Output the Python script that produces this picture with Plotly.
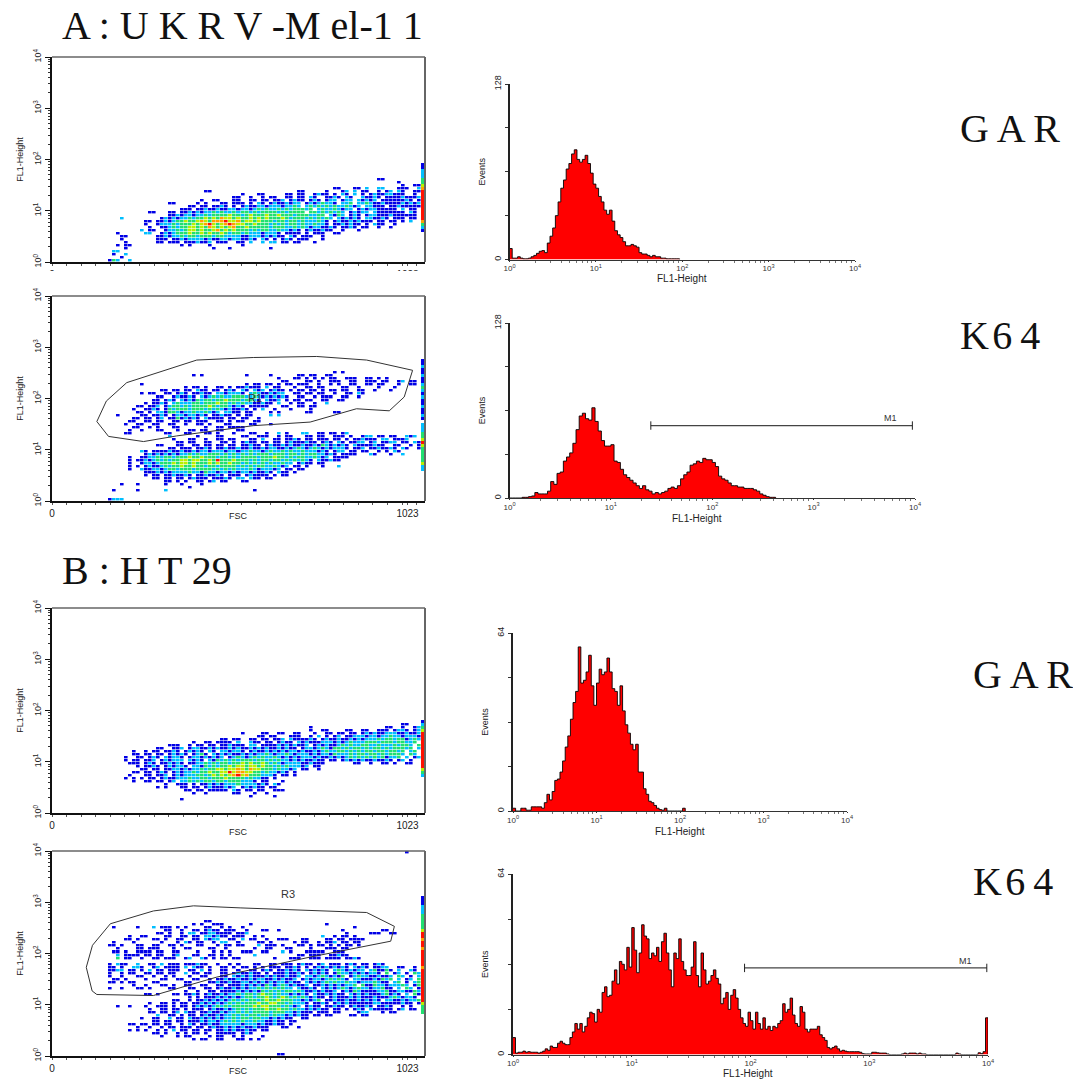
import plotly.graph_objects as go
import numpy as np

W, H = 1073, 1079
FONT = "Liberation Sans"
SERIF = "Liberation Serif"

# ---- dot-plot cells: "FL1_row FSC_col colours" ; b c g y o r = rising density, space = empty
A1_CELLS = [
"40 81 bb","41 86 b","42 87 b  bb","43 70 bb   bb c  cc   bbb  c","44 38 bb",
"44 61 bb     b   bc c bb  b cc bb  b",
"45 47 b   bb     bb bb  bcbb b cb c b bc  cbbb",
"46 45 bb  b  b bb  bb bb cb  bbcb cb  cbbcc  cbcbbbb",
"47 37 b  bb   bb  bb bb bbc bcbb bcb bcc bcc cbcbb bcbc bbb bb",
"48 29 bb     b b   bb bbb b cb bcbbcbcc bcbcgccb ccg ccgc bcbbcbc bb b",
"49 34 bb bb bbcb b bcbbccbcccbccgc cgcgcgcgccgcbc ccbcb bbc bb bb",
"50 32 bbb bbcbbcbbccbccbcgcgccgcgcgggcg cgccgcbcc bcbcccb bb b b",
"51 24 bb   bb bbcbcbccgcgccgcggcgcggggcgcgggg ggcgcgcgc bcbcc cbcbb bb bb",
"52 29 bbcbccbccgcggggyggcgygggyggygggcgggccgg cbgc bcb bccbcb bb  bb",
"53 17 c","53 27 bcbcbccgcggygygoyygyggygygygggygcgggcgcgcgc cbcbcb ccbbcb bb  bb",
"54 23 bb bbcbcggyggyoygoooryyogyygygggcggcggcgcccgcb bcbbcbcbbb bb  b b",
"55 23 b  bcccgcgggygyorygyoroyyggygggcgcgcggcgccgccb bbcbcbb b cbb  b",
"56 24 b  bbcgcggyygygoygygyoggygggggcgggccgcgcbccbbcb bbcb bb  b  b",
"57 22 c bb  bccgcgyygyggyogygygggcgcggccgccbcb bcbbcbb  b   b",
"58 16 b","58 23 cc  bcbcgggyggygyggygcggcgcccbcccb bbbb b bbb  bb",
"59 17 bb","59 26 bbcbccgcggcgggcggccccbbcccbcbcbb cb bbb  b",
"60 17 b","60 26 bbb bbcbccccbcbbccbccbbcb cb b bcb bbb   b",
"61 18 b","61 26 bb bbb bbbcbbc bbb  bb c  c cc bb bb   b",
"62 16 b bb","62 32 b b    b       b","63 18 b","63 40 b   b","63 54 b",
"64 15 cc","65 15 b  c","66 17 b","67 14 bgc  c",
"44 83 b  cb  bb","45 81 bb c bb  b","46 81 b bb bc b cb","47 80 c bb bb cb b","48 80 b c bb  bc c",
"49 81 bb  bcbb b","50 81 b bbb c bb","51 82 bb bb  cb","52 82 b cb bb b","53 83 b  bb b","54 84 b  b c",
]
A1_STRIP = (35, "bbcccggyorrrrrrrrrrogcb")

A2_CELLS = [
"25 70 b b","26 35 b b","26 48 b     b      bb bb  bb",
"27 56 b   bb b b b bb  bbb  bb b b",
"28 57 bb    bb b  bbb  bb  bbb bb  bc bb bb",
"29 22 b","29 48 b bb bb b bb bbb  b  b b  bb  bb bb   b  bb",
"30 33 b bb b  bb b bbcbbb c bb   b  bb bb    bb  b    b   b",
"31 27 bb bb bb cbb bb bcb cb cbc bcbb b bb bb b bb bb  bb  b   b",
"32 22 b bb  bb bcb bbcbb ccbcccb cgcbbcbcc  bb bb bb  b  bb cb",
"33 26 bb  bcbbcb cbcgcgccgggccgcbcbcbcb  bb  b bbb  bb  b",
"34 25 bb bcb cbcbgcggcggygggcggcb cbbc b bb bb  bb  bb",
"35 23 b bbcb cgcccggcgggyggcgcgccbbcbb c  b bb  b  c",
"36 21 bb bbc bcggcgcggggygcggcbcb bbbbb   bb  bb bb",
"37 20 b  bbcb bgcgggcgggcgcgcbcbbcb b c  b   b    b",
"38 21 bb b ccbggcbccgccgcbc ccbb bb    b b      bb     bb",
"39 16 b     bb bbcb bccbccbcb bbcbb b bb    c c",
"40 20 bb bb bc bbgbcbcb cbbbb bb bb  b",
"41 19 bb  bb bb  bb bb bbb  bb b bb  bb",
"42 18 b  bb  bb  bb  b  bb b   bb    bb   b",
"43 20 bb  b b   bb      b  bb bbbb",
"44 19 b  b   bb   b  bb bb  bb   bb",
"45 18 bb        bb   bb   bb b   b   bb  b  c b   cc  bb bb bc",
"46 29 c      b    bb    bb  bbb  b bb   bb bb  bbb b  bcc bb bb  cbc",
"47 30 b   bb  b  bb bb   bb c  bb bbcb bb bbb bb b bbcbbb cc bbbc   bb c",
"48 31 bb bb  bb  bb b bcbb bb bb bcbbbcbb bcb cb bbcc bc bbcc bb cb b",
"49 26 bb   bb  bb bb bb bb bbcbb bcbbcbcbbcbbcbgcbcbcb cbbbbcbb  bb  b bb",
"50 29 bb bbb bbcb bbcbbcbbcbbcbccbbcbcgcbcgcbcbcccb bbc bbcbbcb cb  bcb",
"51 22 cb bbbbcbbcbbcbccbcccbccbccgccbcgccgcgccgcccbcb bcc bb bb  b b cb",
"52 23 bcbcbcbcbccgcgccgggcgcgcgcgcgggcgggcggcgcggccbcb bbbb   cb   b  c",
"53 19 b  bbccgcggcgggyggygggcggcgcggggcgggyggcgcggccgcbc bbbb",
"54 19 b bbcbcgcgcggyygyyggygrgggygggcgcggcggcgcgcgcb cbbcbb",
"55 19 b  bccbcgggygyygygggygyggyggcgcgcgcgccgcc bcbb bb",
"56 19 b b bcbbcgcggyggyggcggcggggcgcgcggccgcbc bb b   b   c",
"57 19 b  cbbccbcggcgggcggggcgcgcgcccgcbcccbc bb bb",
"58 23 bbbcbcbccccgccbgccbccbcbccbcbbcb cbb b",
"59 23 b bb bbcbbcb bbcbbcb bbb bcbbbb b bb",
"60 25 bb bb bb bcbbb bbbcb cc cbb bb",
"61 28 bb b b  bb bc bb   bb",
"62 17 b   b      b   b    b","63 34 b","64 15 b     b      c                     b",
"67 14 bccc",
]
A2_STRIP = (21, "bbcbbcbbcgcbcbbcbbcb cccggyrygggggycc")

B1_CELLS = [
"38 87 bb","39 64 b                  bb  b  bc b",
"40 64 b  bb    bb  bb  bbb bccb bcbb bcb",
"41 47 b    bb  bb  bb   b  bb bb bb bcbcbbcccbbccbccb bb",
"42 51 bb bb   bbb  b c b bc bbcccbcbccccccbcbcccccb c",
"43 42 bb bb  bb bb bbc cbbbbcb bcbbcbbcbcbcccgcgccgcbcccg cb",
"44 35 b  bb bbbb c  cbb bb bcbb cbcbbbcccbcbcgcccggccgcgcc cc",
"45 29 bbb  b bb bb bbcbbb cc bbbbcbcbcbbc bcbcbbcgcgccggcggcgcgcg",
"46 26 bb  bbc bccbbcbcbbcbcbbcbcbcbbcbcbb bccbcgcbggcgcggcgccgcgcgcg",
"47 20 b  b bb bbcb bcbcb cb ccbccb bcbbcbcbcbccbcbbcbcgccggcgcgcggggcgcgcc",
"48 20 bb bb bb bcbcb bcgb cbcbcbbcbcbccgcbccgcbcccbcbccbgcccgcggcggggcgcgc",
"49 18 b  bb bcb cbccb bccbcbcbc bcgcbcgcgccgcbcbcbcccbcbbcbcbcgcgcgcgcgcc",
"50 18 b bb bbc bcbccc cbcb cbgcgcgcgggcggcgcgccbcbcbbcbb bb bcbcbcbbcbb b",
"51 19 bbb bcb bbcbcb bbccgcgcggcggygyggygcgcbccccbbcbbb       bb  b  bb",
"52 21 b bbcb bcbccb ccbgcgcggygyygyygyggcgcgcccbc bb",
"53 22 bb bb bbccbcbccgcggyygyyoygoyygggcgccbc bb  b",
"54 20 bb bb bcb bcbccgcggyggyyryooyyggcgccbcb b",
"55 19 b   bb bbc bcbcccggcgygygyoryogggcccb bb b",
"56 18 b b b bb bcbbcccgccggcgggyggggcgccbb b",
"57 20 b  bb bb bc ccgcgcggcggcgggcccb bb   b",
"58 28 b  bbb b bbcbcbcccgccccbcb cb",
"59 26 b b   bb bb bcbbbcbc bcbcbb bb",
"60 33 bb bb bbbbb cb bb bb  bbb",
"61 35 b  b      bb   b  b",
"62 49 b     b","63 32 b",
"41 82 bc c bcb c","42 80 cb cg cb c bc","43 79 c gc gc g cgc","44 80 gc g cgg cg c","45 80 cg c gc gc gc",
"46 80 g cg gg cg c","47 80 c gcg cg cg","48 81 cg gg c gc","49 81 c b cg c bc","50 83 cb bc b","51 85 b  bb",
]
B1_STRIP = (37, "bcgyrrrrrrrrrrrrygc")

B2_CELLS = [
"0 88 b","23 38 bb","24 35 b b  bbb      b                  b",
"25 15 b     b   c bbb b b    bb  b b  b                           b",
"26 28 bb  b  bb bcbb bbb  b   bb  b               b         bb",
"27 26 bb b  b cc bbccbbbb bbc                        b     bbb  bb",
"28 19 b  bb    bb  bb bb ccbcbb bbb  b b              c  b bb b",
"29 18 bb b   bb b  bb  bb cbcc  bb c bb  b  bbb   bb    bb bb bbbb",
"30 15 b    b      b   b cb bb  b cc  b    bb b     b bb  b bbc bb bb",
"31 14 bb b   bb  bb  bb b   bb   b bb bb   c bbb b   bb b bb b b bb b",
"32 16 b    bb bbb   b  bb    bb  b      b  bb   bb    b   bbb bb",
"33 15 bb b  bbbb bb  bb    b   b b b  bbb  bb   c b   bbbbb  bbb",
"34 16 c bbbb bb bb  bc   bb  bb b b     c          bb bbb  bbcbb",
"35 16 g bb  b  bb bbb  bc  cb b bb bb        b   bbb  bbb bbbb bbcb",
"37 14 b cbb  c  bb c bbb bbbcbb  b  b b   bb  bb bbb bcbb bc bbb bcb bb bcb",
"38 14 bb b  ccb  bc bbbb c cbb b  bb b bb b b bbb bbcb b bcbcbcbcb cbcb cbcb",
"39 14 bbcc bb b c bb bbb  bb c b  bb  b  bb bcb bbcbcb cbcbcb cgcbcbcc bgbb",
"40 14 b  b bb  bb bb bb  c bb bb  bb bcbbcbb b bbbcbbcb bcbcb bgccbcbc cbc",
"41 14 b  b   bb  b  b b   b  bb   bb cbcbcbbbcbcbbcbbc ccbcgcbcbg bcgcgcbbb",
"42 15 bb b    b   bb  bb  bb  b bbcbbcbbcbccbbcbcbbc bcbccbcgcgcb ccbcbcbgbb",
"43 14 bb b bb    bb      bb    bbcbbcbbccbcbcbcbccbcbb cbcbcgcgccgccbcbcgcbb",
"44 20 b  b   bb b  bb  bb  bb bbbcbcbcbgcbcgcbcbbc bbcbcbcbccg gcbgccbcbcbb",
"45 14 b  b   bb b    bb   bb  bb bcbbcbcbccgcgcgcgcc cbbcb cbcbcgcbcgccbcgcb",
"46 33 b  b  bb bbbbcbcbcbgcgcgcggcgcbbcbcbbc bcbgcbcbcbccbcgcbbcb",
"47 23 bb b   bb bbcb bcbbcbccgcggcgyggcgccbcbcb cbbcbcbb cbcbcbcbbcbbb",
"48 34 b b bbbcbcbcbcggcggygcgygcgcgcbcbb bcbbbcbcbcb bcbcbcbcbb bcb",
"49 30 bb  b bbcbcbcbcgcgcggcgyggygggccbcbcg bbcbbcbbcbcbcb bcbb bcbbb",
"50 24 b  bb b bb bbcbcbcbcgcgcgggyggyyggcgcccb bbcb bcbcbbbbcbc bb bcbb",
"51 16 b  b   b  bbb b bb bcbcbcgcgcgggggygyygggcgcbc bcbb bbcbb bcbbcb bb c",
"52 24 b  bb bb b bbb bcbbcbcgcgcgggyggyggcgccbcbcbb bb b bcb bbcbbc bb cb",
"53 24 bb bb bc cbb bbcbbcbccgcgcggggcgggccbcbbb bbb bb    bcc   b bb",
"54 26 c  bb b bb bcbbcbccgcgcggcggcgccbcbcbb bb bb    bb bb",
"55 22 b  bb  c bb cbbcbcbcbccgcggcggccbcbcbb  bb",
"56 25 bb bb bb bbbcbccbcgcgcgccgccbbcbb bb",
"57 19 bb bb bb bb  b cb bbcbbcccccbcccbcbbcbb b",
"58 21 b  b  b bb bbb bb bcbbcbcbcbbcbbb   bb  b",
"59 19 b b b  b b c bb bb bb bbcbcbbcbb bb",
"60 25 bb b  b b bb b  bbbbb bcb",
"61 27 b   b bb    b bb  b b    b",
"62 35 b bb  bb   bb b b",
"67 56 bb",
"38 80 b  c  bb  b","39 79 c b gb c  cb","40 78 b cb g bc b gc b","41 78 cb c bc gc b cgb","42 78 b cb cg c bc g c","43 78 c gc b cg b cgc b",
"44 78 b g cb c gc bg b","45 78 cb cg b c gc b c","46 78 b bc g bc b gc b","47 78 c b cg cb c gb b","48 78 b c b cg b cb g","49 78 cb b c b cb cg b",
"50 78 b  cb b bc b b","51 79 b  bcb  b b","52 79 c b  b  c b",
]
B2_STRIP = (15, "bbbcccgggggyrrorrorrrrrorrrrrrrrrrryggg")

# ---- histograms: events per bin
A1_EVENTS = [8,1,1,2,1,.5,.5,1,2,3,4.5,6,6.5,5,12,17,23,32,42,52,58,66,70,77,80,73,71,73,76,70,63,55,52,46,42,36,33,36,28,21,18,16,13,10,10,11,10,9,5,4,4,3,2,3,2,2,1,1,.5,.5,.5,.5,.5]
A2_EVENTS = [0,0,0,0,.5,.5,1,1.5,4,3,3,3,5,12,10,18,19,27,30,33,40,50,60,62,58,57,66,56,49,42,38,38,39,27,26,21,17,15,13,11,9,7,9,6,5,3,4,3,4,5,7,8,7,9,14,17,19,24,25,27,26,29,28,28,26,23,16,14,13,11,9,9,8,8,7,7,7,6,5,3,2,1,.5,.5]
B1_EVENTS = [1,0,0,1,1,.3,.3,1.5,1.5,1.5,1.5,1,3,6,4,7,11,11.5,14,18,23,27,33,39,43,59,46,47,50,56,45,38,46,51,49,50,55,50,44,43,38,45,36,31,28,24,22,24,14,14,8,6,3.5,3,2,1,.5,.3,1,0,0,0,0,0,0,1]
B2_EVENTS = [6,.5,.8,.8,1.2,.8,1,.8,.8,.8,.5,.8,1.2,2,1.5,3,2.5,2.5,4,4.7,4,3.5,3.5,6,8,11,9,11,8,10,13,15,14.5,11.5,16,15,22,24,20.5,21,26,30,25,33,32,30,38,31,45,37,29,36,46,42,41,34,36,35,38,33,40,43,36,30,24,36,34,41,33,30,28,28,31,40,28,24,36,30,25,26,28,30,27,25,18,20,22,16,21,23,20,16,13,11,10,15,12,9,15,11,9,13,9,10,8.5,10,9.5,11,12,18,15,16,20,14,11,10,17,15,9,8,9,9,9,10,7,6,5,2.5,2,2.5,3,2,1.2,1.5,1.2,1,1,1,1,1,.8,.3,.2,.2,.2,.8,.8,.6,.5,.5,.5,.2,0,0,0,0,0,.2,.5,.2,.5,.5,.5,.2,.5,.2,.2,0,0,0,0,0,0,0,0,0,0,0,0,.5,.2,0,0,0,0,0,0,0,.6,.3,1,13]
BINS_PER_DECADE = {"A1": 32, "A2": 32, "B1": 32, "B2": 48}

# ---- gates (FSC channel, log10 FL1)
R1_FSC = [123,149,205,397,552,726,863,989,966,925,835,708,552,342,251,155,123]
R1_LOG = [1.55,1.95,2.31,2.75,2.80,2.82,2.75,2.55,2.03,1.76,1.80,1.54,1.47,1.27,1.16,1.26,1.55]
R3_FSC = [94,111,160,278,388,516,863,939,929,708,452,278,123,110,94]
R3_LOG = [1.73,2.16,2.58,2.83,2.93,2.89,2.80,2.53,2.24,1.93,1.54,1.18,1.20,1.27,1.73]
M1_A2 = ([1.394,3.974],[53,53])
M1_B2 = ([1.95,3.99],[30.7,30.7])

DECADE_LABELS = ["10<sup>%d</sup>" % d for d in range(5)]
LEVELS = {"b":1,"c":2,"g":3,"y":4,"o":5,"r":6}
COLORS = ["#0000e6","#00bfff","#20e070","#b8f000","#ffa000","#ff1000"]
ROWS, COLS = 68, 93

def grid(cells):
    z = [[None]*(COLS-1) for _ in range(ROWS)]
    for c in cells:
        r, col, s = c.split(" ", 2)
        r, col = int(r), int(col)
        for k, ch in enumerate(s):
            if ch in LEVELS and col+k < COLS-1:
                z[ROWS-1-r][col+k] = LEVELS[ch]
    return z

def strip_col(strip):
    z = [[None] for _ in range(ROWS)]
    for k, ch in enumerate(strip[1]):
        if ch in LEVELS:
            z[ROWS-1-(strip[0]+k)][0] = LEVELS[ch]
    return z

cs = []
for i, c in enumerate(COLORS):
    cs += [[i/6, c], [(i+1)/6, c]]

fig = go.Figure()
layout = {}
shapes, annos = [], []

minor_log = [d+np.log10(k) for d in range(4) for k in range(2, 10)]

def xdom(a, b): return [a/W, b/W]
def ydom(t, b): return [1-b/H, 1-t/H]

def line(x0, y0, x1, y1, col, w):
    shapes.append(dict(type="line", xref="paper", yref="paper", x0=x0/W, x1=x1/W,
                       y0=1-y0/H, y1=1-y1/H, line=dict(color=col, width=w)))

def dot_panel(n, cells, strip, top):
    L, R, B = 52, 425, top+205
    xs = [(i+.5)*1023/COLS for i in range(COLS)]
    ys = [(i+.5)*4/ROWS for i in range(ROWS)]
    fig.add_trace(go.Heatmap(z=grid(cells), x=xs[:-1], y=ys, xaxis=f"x{n}", yaxis=f"y{n}", colorscale=cs, ygap=0.6, xgap=0.4,
                             zmin=.5, zmax=6.5, showscale=False, hoverongaps=False))
    fig.add_trace(go.Heatmap(z=strip_col(strip), x0=xs[-1], dx=1023/COLS, y=ys, xaxis=f"x{n}", yaxis=f"y{n}", colorscale=cs,
                             zmin=.5, zmax=6.5, showscale=False, hoverongaps=False))
    layout[f"xaxis{n}"] = dict(domain=xdom(L, R), anchor=f"y{n}", range=[0, 1023], showgrid=False, zeroline=False,
        tickvals=[0, 975], ticktext=["0", "1023"], ticks="outside", ticklen=2, tickcolor="#555",
        tickfont=dict(family=FONT, size=10, color="#222"), showline=True, linecolor="#111", linewidth=1.5,
        minor=dict(tickvals=[40*k for k in range(1, 26)], ticks="outside", ticklen=2, tickcolor="#555"))
    layout[f"yaxis{n}"] = dict(domain=ydom(top, B), anchor=f"x{n}", range=[0, 4], showgrid=False, zeroline=False,
        tickvals=list(range(5)), ticktext=DECADE_LABELS, tickangle=-90, ticks="outside", ticklen=5, tickcolor="#111",
        tickfont=dict(family=FONT, size=9, color="#222"), showline=True, linecolor="#111", linewidth=2,
        minor=dict(tickvals=minor_log, ticks="outside", ticklen=2, tickcolor="#333"),
        title=dict(text="FL1-Height", font=dict(family=FONT, size=9, color="#222"), standoff=6))
    line(L, top, R, top, "#666", 1.5)
    line(R, top, R, B, "#666", 2)

def hist_panel(n, key, events, ymax, L, R, T, B, ymarks):
    step = 1/BINS_PER_DECADE[key]
    xs = [i*step for i in range(len(events)+1)]
    ys = list(events)+[0]
    fig.add_trace(go.Scatter(x=xs, y=ys, xaxis=f"x{n}", yaxis=f"y{n}", mode="lines", line=dict(color="#000", width=0.9, shape="hv"),
                             fill="tozeroy", fillcolor="#ff0000", showlegend=False))
    layout[f"xaxis{n}"] = dict(domain=xdom(L, R), anchor=f"y{n}", range=[0, 4], showgrid=False, zeroline=False,
        tickvals=list(range(5)), ticktext=DECADE_LABELS, ticks="outside", ticklen=1, tickcolor="#333",
        tickfont=dict(family=FONT, size=8, color="#333"), showline=True, linecolor="#333", linewidth=1,
        minor=dict(tickvals=minor_log, ticks="outside", ticklen=2, tickcolor="#777"))
    layout[f"yaxis{n}"] = dict(domain=ydom(T, B), anchor=f"x{n}", range=[0, ymax], showgrid=False, zeroline=False,
        tickvals=ymarks, ticktext=[str(ymarks[0]), "", "", "", str(ymarks[-1])], tickangle=-90, ticks="outside", ticklen=3, tickcolor="#333",
        tickfont=dict(family=FONT, size=9, color="#222"), showline=True, linecolor="#222", linewidth=2,
        title=dict(text="Events", font=dict(family=FONT, size=9, color="#222"), standoff=6))

dot_panel(1, A1_CELLS, A1_STRIP, 57)
dot_panel(2, A2_CELLS, A2_STRIP, 296)
dot_panel(3, B1_CELLS, B1_STRIP, 608)
dot_panel(4, B2_CELLS, B2_STRIP, 851)

hist_panel(5, "A1", A1_EVENTS, 128, 509.5, 855, 84, 259.5, [0,32,64,96,128])
hist_panel(6, "A2", A2_EVENTS, 128, 509.5, 915, 323, 498, [0,32,64,96,128])
hist_panel(7, "B1", B1_EVENTS, 64, 513, 847, 633, 811, [0,16,32,48,64])
hist_panel(8, "B2", B2_EVENTS, 64, 513, 988, 874, 1054.5, [0,16,32,48,64])

for n, xv, yv in [(2, R1_FSC, R1_LOG), (4, R3_FSC, R3_LOG)]:
    fig.add_trace(go.Scatter(x=xv, y=yv, xaxis=f"x{n}", yaxis=f"y{n}", mode="lines",
                             line=dict(color="#333", width=1), showlegend=False))
for n, (xv, yv) in [(6, M1_A2), (8, M1_B2)]:
    fig.add_trace(go.Scatter(x=xv, y=yv, xaxis=f"x{n}", yaxis=f"y{n}", mode="lines+markers",
                             line=dict(color="#444", width=1.2), showlegend=False,
                             marker=dict(symbol="line-ns", size=6, line=dict(color="#222", width=1))))

def data_text(n, x, y, t, size=10, col="#333"):
    annos.append(dict(xref=f"x{n}", yref=f"y{n}", x=x, y=y, text=t, showarrow=False,
                      font=dict(family=FONT, size=size, color=col)))
data_text(2, 557, 2.01, "R1", 11, "#333")
data_text(4, 648, 3.16, "R3", 11, "#333")
data_text(6, 3.76, 58.5, "M1", 9)
data_text(8, 3.81, 33.3, "M1", 9)

def paper_text(x, y, t, family=FONT, size=10, col="#222", anchor="center"):
    annos.append(dict(xref="paper", yref="paper", x=x/W, y=1-y/H, text=t, showarrow=False, xanchor=anchor, yanchor="middle",
                      font=dict(family=family, size=size, color=col)))

def big(x, y, t):
    paper_text(x, y, t, SERIF, 40, "#111", "left")
big(60, 26, "A : U K R V -M el-1 1")
big(958, 128, "G A R")
big(958, 335, "K\u200a6\u20094")
big(60, 570, "B : H T 29")
big(971, 674, "G A R")
big(971, 881, "K\u200a6\u20094")

paper_text(238, 516, "FSC", size=9)
paper_text(238, 832, "FSC", size=9)
paper_text(238, 1071, "FSC", size=9)
paper_text(682, 279, "FL1-Height", size=10)
paper_text(697, 518, "FL1-Height", size=10)
paper_text(680, 831, "FL1-Height", size=10)
paper_text(748, 1073, "FL1-Height", size=10)

# white crops, as in the pasted-together original
shapes.append(dict(type="rect", xref="paper", yref="paper", x0=40/W, x1=440/W, y0=1-290/H, y1=1-271/H,
                   fillcolor="#fff", line=dict(width=0), layer="above"))
shapes.append(dict(type="rect", xref="paper", yref="paper", x0=200/W, x1=280/W, y0=1-842/H, y1=1-829/H,
                   fillcolor="#fff", line=dict(width=0), layer="above"))

fig.update_layout(width=W, height=H, margin=dict(l=0, r=0, t=0, b=0, autoexpand=False), paper_bgcolor="#fff", plot_bgcolor="#fff",
                  showlegend=False, shapes=shapes, annotations=annos, **layout)
fig.write_html("out.html", config={"displayModeBar": False},
               post_script="document.body.style.margin='0';document.documentElement.style.overflow='hidden';")
